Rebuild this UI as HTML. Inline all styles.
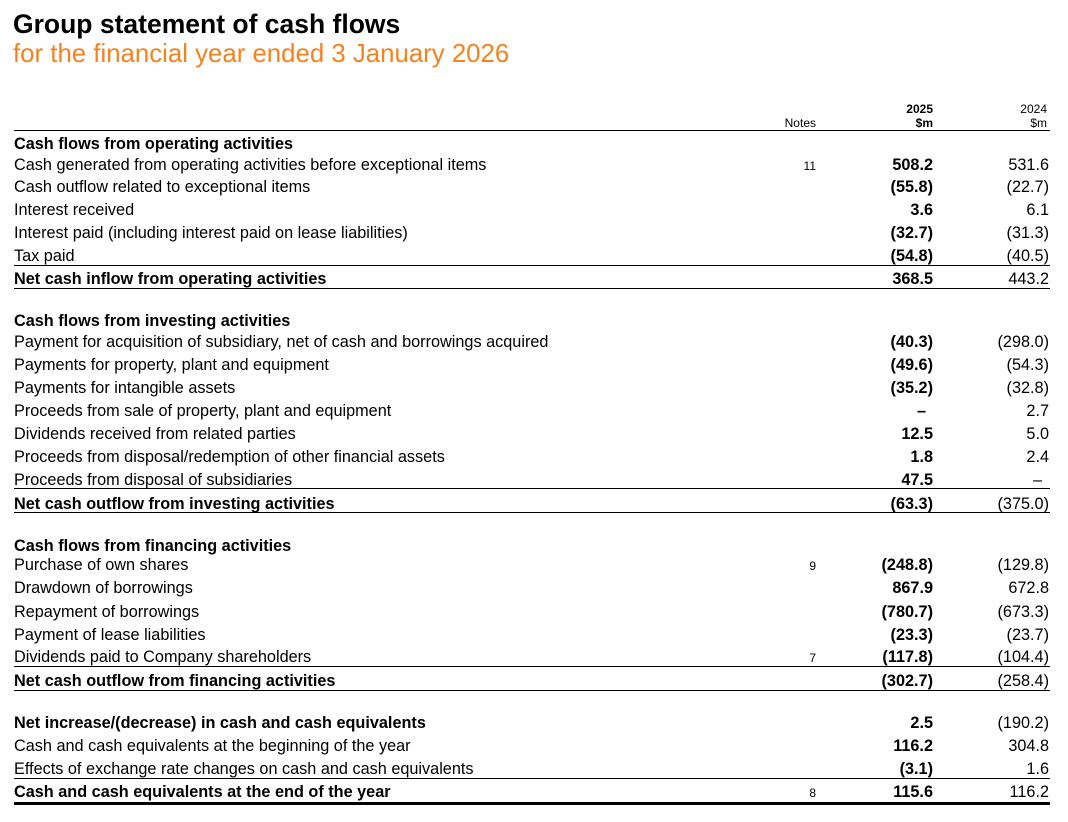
<!DOCTYPE html>
<html>
<head>
<meta charset="utf-8">
<style>
  html,body{margin:0;padding:0;background:#fff;}
  body{width:1068px;height:822px;position:relative;overflow:hidden;font-family:"Liberation Sans",Arial,sans-serif;color:#000;}
  .t1{position:absolute;left:13px;top:9px;font-size:26.5px;font-weight:bold;line-height:30px;white-space:nowrap;}
  .t2{position:absolute;left:13px;top:39px;font-size:25.8px;line-height:30px;color:#f5821f;white-space:nowrap;}
  .rows{position:absolute;left:0;top:1px;width:1068px;height:820px;}
  .r{position:absolute;left:0;width:1068px;height:20px;font-size:16.25px;line-height:20px;white-space:nowrap;}
  .r .l{position:absolute;left:14px;top:0;}
  .r .n{position:absolute;right:252px;top:0;font-size:12px;line-height:22px;}
  .r .a{position:absolute;right:135px;top:0;font-weight:bold;}
  .r .b{position:absolute;right:19px;top:0;}
  .r .a.d{right:142px;}
  .r .b.d{right:26px;}
  .h .l{font-weight:bold;}
  .ln{position:absolute;left:14px;width:1036px;height:1px;background:#000;}
  .hd{position:absolute;font-size:12px;line-height:14px;text-align:right;white-space:nowrap;}
</style>
</head>
<body>
<div class="t1">Group statement of cash flows</div>
<div class="t2">for the financial year ended 3 January 2026</div>

<div class="hd" style="right:252px;top:116px;">Notes</div>
<div class="hd" style="right:135px;top:102px;font-weight:bold;">2025<br>$m</div>
<div class="hd" style="right:21px;top:102px;">2024<br>$m</div>
<div class="ln" style="top:130px;"></div>
<div class="ln" style="top:264.5px;"></div>
<div class="ln" style="top:287.5px;"></div>
<div class="ln" style="top:488px;"></div>
<div class="ln" style="top:511.5px;"></div>
<div class="ln" style="top:666px;"></div>
<div class="ln" style="top:689.5px;"></div>
<div class="ln" style="top:778px;"></div>
<div class="ln" style="top:802px;height:3px;"></div>

<div class="rows">
<div class="r h" style="top:132.5px;"><span class="l">Cash flows from operating activities</span></div>
<div class="r" style="top:153.5px;"><span class="l">Cash generated from operating activities before exceptional items</span><span class="n">11</span><span class="a">508.2</span><span class="b">531.6</span></div>
<div class="r" style="top:176.2px;"><span class="l">Cash outflow related to exceptional items</span><span class="a">(55.8)</span><span class="b">(22.7)</span></div>
<div class="r" style="top:199px;"><span class="l">Interest received</span><span class="a">3.6</span><span class="b">6.1</span></div>
<div class="r" style="top:221.8px;"><span class="l">Interest paid (including interest paid on lease liabilities)</span><span class="a">(32.7)</span><span class="b">(31.3)</span></div>
<div class="r" style="top:244.5px;"><span class="l">Tax paid</span><span class="a">(54.8)</span><span class="b">(40.5)</span></div>
<div class="r h" style="top:268px;"><span class="l">Net cash inflow from operating activities</span><span class="a">368.5</span><span class="b">443.2</span></div>

<div class="r h" style="top:309.5px;"><span class="l">Cash flows from investing activities</span></div>
<div class="r" style="top:330.5px;"><span class="l">Payment for acquisition of subsidiary, net of cash and borrowings acquired</span><span class="a">(40.3)</span><span class="b">(298.0)</span></div>
<div class="r" style="top:353.5px;"><span class="l">Payments for property, plant and equipment</span><span class="a">(49.6)</span><span class="b">(54.3)</span></div>
<div class="r" style="top:376.5px;"><span class="l">Payments for intangible assets</span><span class="a">(35.2)</span><span class="b">(32.8)</span></div>
<div class="r" style="top:399.5px;"><span class="l">Proceeds from sale of property, plant and equipment</span><span class="a d">–</span><span class="b">2.7</span></div>
<div class="r" style="top:422.5px;"><span class="l">Dividends received from related parties</span><span class="a">12.5</span><span class="b">5.0</span></div>
<div class="r" style="top:445.5px;"><span class="l">Proceeds from disposal/redemption of other financial assets</span><span class="a">1.8</span><span class="b">2.4</span></div>
<div class="r" style="top:468.5px;"><span class="l">Proceeds from disposal of subsidiaries</span><span class="a">47.5</span><span class="b d">–</span></div>
<div class="r h" style="top:492.5px;"><span class="l">Net cash outflow from investing activities</span><span class="a">(63.3)</span><span class="b">(375.0)</span></div>

<div class="r h" style="top:534.5px;"><span class="l">Cash flows from financing activities</span></div>
<div class="r" style="top:554px;"><span class="l">Purchase of own shares</span><span class="n">9</span><span class="a">(248.8)</span><span class="b">(129.8)</span></div>
<div class="r" style="top:577.2px;"><span class="l">Drawdown of borrowings</span><span class="a">867.9</span><span class="b">672.8</span></div>
<div class="r" style="top:600.5px;"><span class="l">Repayment of borrowings</span><span class="a">(780.7)</span><span class="b">(673.3)</span></div>
<div class="r" style="top:623.5px;"><span class="l">Payment of lease liabilities</span><span class="a">(23.3)</span><span class="b">(23.7)</span></div>
<div class="r" style="top:646.2px;"><span class="l">Dividends paid to Company shareholders</span><span class="n">7</span><span class="a">(117.8)</span><span class="b">(104.4)</span></div>
<div class="r h" style="top:669.8px;"><span class="l">Net cash outflow from financing activities</span><span class="a">(302.7)</span><span class="b">(258.4)</span></div>

<div class="r h" style="top:711.8px;"><span class="l">Net increase/(decrease) in cash and cash equivalents</span><span class="a">2.5</span><span class="b" style="font-weight:normal;">(190.2)</span></div>
<div class="r" style="top:734.5px;"><span class="l">Cash and cash equivalents at the beginning of the year</span><span class="a">116.2</span><span class="b">304.8</span></div>
<div class="r" style="top:757.8px;"><span class="l">Effects of exchange rate changes on cash and cash equivalents</span><span class="a">(3.1)</span><span class="b">1.6</span></div>
<div class="r h" style="top:781.2px;"><span class="l">Cash and cash equivalents at the end of the year</span><span class="n">8</span><span class="a">115.6</span><span class="b">116.2</span></div>
</div>
</body>
</html>
